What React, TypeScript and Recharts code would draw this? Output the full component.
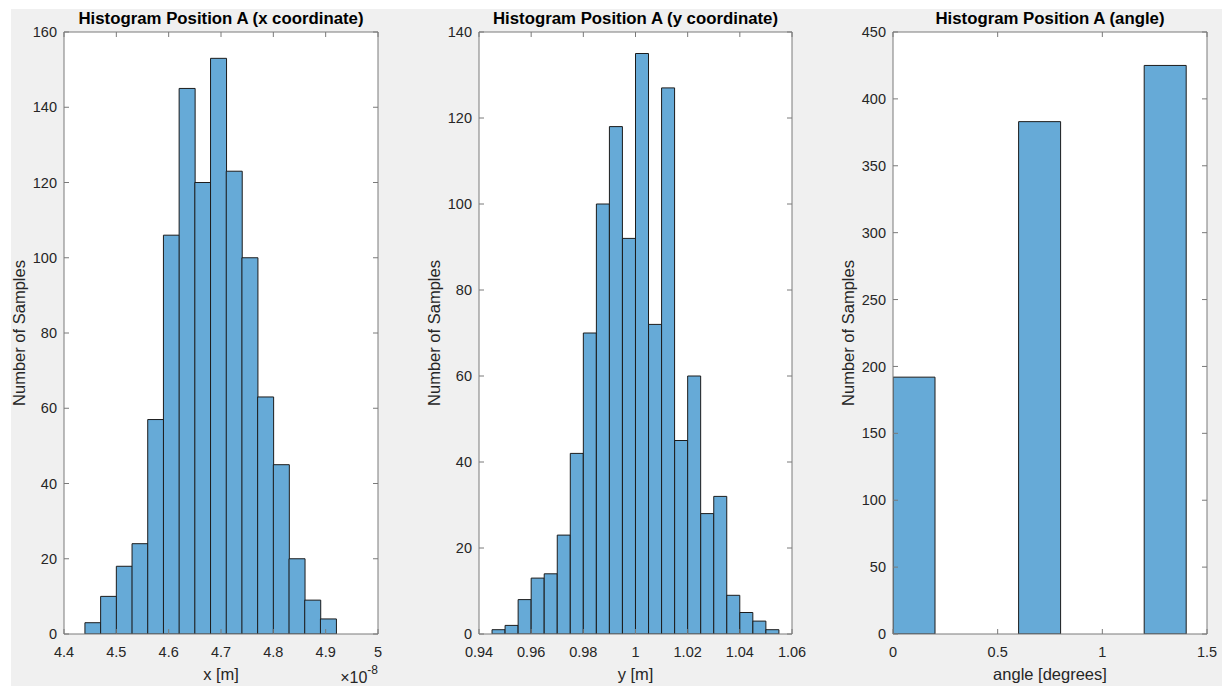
import { BarChart, Bar, XAxis, YAxis, CartesianGrid, Label } from 'recharts';

// x coordinate (units of 1e-8 m)
const xEdges = [4.44, 4.47, 4.5, 4.53, 4.56, 4.59, 4.62, 4.65, 4.68, 4.71, 4.74, 4.77, 4.8, 4.83, 4.86, 4.89, 4.92];
const xCounts = [3, 10, 18, 24, 57, 106, 145, 120, 153, 123, 100, 63, 45, 20, 9, 4];
const xTicks = [4.4, 4.5, 4.6, 4.7, 4.8, 4.9, 5];
const xCountTicks = [0, 20, 40, 60, 80, 100, 120, 140, 160];

// y coordinate (m)
const yEdges = [
  0.945, 0.95, 0.955, 0.96, 0.965, 0.97, 0.975, 0.98, 0.985, 0.99, 0.995, 1,
  1.005, 1.01, 1.015, 1.02, 1.025, 1.03, 1.035, 1.04, 1.045, 1.05, 1.055,
];
const yCounts = [1, 2, 8, 13, 14, 23, 42, 70, 100, 118, 92, 135, 72, 127, 45, 60, 28, 32, 9, 5, 3, 1];
const yTicks = [0.94, 0.96, 0.98, 1, 1.02, 1.04, 1.06];
const yCountTicks = [0, 20, 40, 60, 80, 100, 120, 140];

// angle (degrees)
const angleEdges = [0, 0.2, 0.4, 0.6, 0.8, 1, 1.2, 1.4];
const angleCounts = [192, 0, 0, 383, 0, 0, 425];
const angleTicks = [0, 0.5, 1, 1.5];
const angleCountTicks = [0, 50, 100, 150, 200, 250, 300, 350, 400, 450];

const FONT = '"Liberation Sans", Arial, Helvetica, sans-serif';
const TEXT = '#262626';
const AXIS = '#7a7a7a';
const FACE = '#66aad7';
const EDGE = '#1c1c1c';
const TICK_FS = 14.5;
const LABEL_FS = 16.5;
const TITLE_FS = 16.8;

const toBins = (edges: number[], counts: number[]) =>
  counts.map((count, i) => ({ mid: (edges[i] + edges[i + 1]) / 2, count }));

interface HistProps {
  left: number;
  width: number;
  margin: { left: number; right: number };
  title: string;
  xLabel: string;
  edges: number[];
  counts: number[];
  xTicks: number[];
  yTicks: number[];
  exponent?: string;
}

function Histogram({ left, width, margin, title, xLabel, edges, counts, xTicks, yTicks, exponent }: HistProps) {
  const data = toBins(edges, counts);
  const xDomain = [xTicks[0], xTicks[xTicks.length - 1]];
  const yDomain = [yTicks[0], yTicks[yTicks.length - 1]];
  const tickStyle = { fill: TEXT, fontSize: TICK_FS, fontFamily: FONT };

  return (
    <div style={{ position: 'absolute', left, top: 0, width, height: 686 }}>
      <BarChart
        width={width}
        height={686}
        data={data}
        margin={{ top: 31, right: margin.right - 1, bottom: 2, left: margin.left }}
        barCategoryGap={0}
        barGap={0}
      >
        <CartesianGrid horizontal={false} vertical={false} fill="#ffffff" />
        <XAxis
          dataKey="mid"
          type="number"
          domain={xDomain}
          ticks={xTicks}
          allowDataOverflow
          interval={0}
          height={50}
          stroke={AXIS}
          tickSize={-5}
          tickMargin={18}
          tick={tickStyle}
        >
          <Label value={xLabel} position="insideBottom" offset={4} fill={TEXT} fontSize={LABEL_FS} fontFamily={FONT} />
          {exponent && (
            <Label
              content={(props: any) => {
                const vb = props.viewBox;
                return (
                  <text
                    x={vb.x + vb.width}
                    y={vb.y + 48.5}
                    textAnchor="end"
                    fill={TEXT}
                    fontSize={16}
                    fontFamily={FONT}
                  >
                    {'\u00d710'}
                    <tspan dy={-9} fontSize={12}>
                      {exponent}
                    </tspan>
                  </text>
                );
              }}
            />
          )}
        </XAxis>
        <XAxis
          xAxisId="top"
          orientation="top"
          dataKey="mid"
          type="number"
          domain={xDomain}
          ticks={xTicks}
          allowDataOverflow
          interval={0}
          height={1}
          stroke={AXIS}
          tickSize={-5}
          tickFormatter={() => ''}
        >
          <Label value={title} position="top" offset={7} fill="#000000" fontSize={TITLE_FS} fontWeight="bold" fontFamily={FONT} />
        </XAxis>
        <YAxis
          type="number"
          domain={yDomain}
          ticks={yTicks}
          allowDataOverflow
          interval={0}
          width={54}
          stroke={AXIS}
          tickSize={-5}
          tickMargin={12}
          tick={tickStyle}
        >
          <Label value="Number of Samples" angle={-90} position="center" dx={-18} fill={TEXT} fontSize={LABEL_FS} fontFamily={FONT} />
        </YAxis>
        <YAxis
          yAxisId="right"
          orientation="right"
          type="number"
          domain={yDomain}
          ticks={yTicks}
          allowDataOverflow
          interval={0}
          width={1}
          stroke={AXIS}
          tickSize={-5}
          tickFormatter={() => ''}
        />
        <Bar dataKey="count" fill={FACE} stroke={EDGE} strokeWidth={1} isAnimationActive={false} />
      </BarChart>
    </div>
  );
}

export default function App() {
  return (
    <div
      style={{
        position: 'absolute',
        left: 0,
        top: 0,
        width: 1222,
        height: 686,
        background: '#ffffff',
        fontFamily: FONT,
        overflow: 'hidden',
      }}
    >
      <div style={{ position: 'absolute', left: 11, top: 9, width: 1211, height: 677, background: '#f0f0f0' }} />
      <Histogram
        left={0}
        width={400}
        margin={{ left: 10, right: 22 }}
        title="Histogram Position A (x coordinate)"
        xLabel="x [m]"
        edges={xEdges}
        counts={xCounts}
        xTicks={xTicks}
        yTicks={xCountTicks}
        exponent="-8"
      />
      <Histogram
        left={410}
        width={400}
        margin={{ left: 15, right: 18 }}
        title="Histogram Position A (y coordinate)"
        xLabel="y [m]"
        edges={yEdges}
        counts={yCounts}
        xTicks={yTicks}
        yTicks={yCountTicks}
      />
      <Histogram
        left={820}
        width={402}
        margin={{ left: 19, right: 15 }}
        title="Histogram Position A (angle)"
        xLabel="angle [degrees]"
        edges={angleEdges}
        counts={angleCounts}
        xTicks={angleTicks}
        yTicks={angleCountTicks}
      />
    </div>
  );
}
